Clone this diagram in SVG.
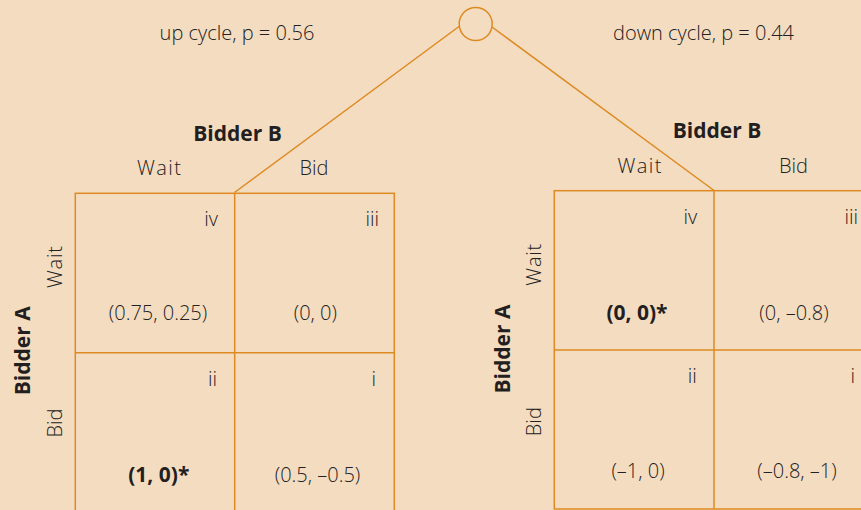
<svg xmlns="http://www.w3.org/2000/svg" width="861" height="510" viewBox="0 0 861 510">
<style>
.ln{fill:none;stroke:#de8a22;stroke-width:1.5}
.t{font-family:"Open Sans","Liberation Sans",sans-serif;font-weight:300;fill:#222;font-size:20px}
.b{font-family:"Open Sans","Liberation Sans",sans-serif;font-weight:700;fill:#231f20;font-size:21px}
.m{text-anchor:middle}
.e{text-anchor:end}
</style>
<rect width="861" height="510" fill="#f4dcc0"/>
<g id="connectors">
<line class="ln" x1="459" y1="26.5" x2="234.5" y2="192.5"/>
<line class="ln" x1="492" y1="27" x2="714" y2="190.5"/>
</g>
<g id="chance-node">
<circle class="ln" cx="475.7" cy="24" r="16.5"/>
</g>
<g id="labels-top">
<text class="t m" x="237" y="40">up cycle, p = 0.56</text>
<text class="t m" x="703.5" y="40">down cycle, p = 0.44</text>
</g>
<g id="matrix-up">
<rect class="ln" x="75.3" y="193.3" width="319" height="330"/>
<line class="ln" x1="234.7" y1="193.3" x2="234.7" y2="515"/>
<line class="ln" x1="75.3" y1="352.7" x2="394.3" y2="352.7"/>
<text class="b m" x="237.5" y="140.7">Bidder B</text>
<text class="t m" x="159" y="175" textLength="44">Wait</text>
<text class="t m" x="314" y="175">Bid</text>
<text class="b m" transform="translate(30,350.8) rotate(-90)">Bidder A</text>
<text class="t m" transform="translate(61.5,267) rotate(-90)" textLength="42">Wait</text>
<text class="t m" transform="translate(61.5,423) rotate(-90)">Bid</text>
<text class="t e" x="218" y="225.7">iv</text>
<text class="t e" x="379" y="225.7">iii</text>
<text class="t e" x="217" y="385.7">ii</text>
<text class="t e" x="376" y="385.7">i</text>
<text class="t m" x="158" y="320">(0.75, 0.25)</text>
<text class="t m" x="315.3" y="320">(0, 0)</text>
<text class="b m" x="158.8" y="481.7">(1, 0)*</text>
<text class="t m" x="317.5" y="481.5">(0.5, –0.5)</text>
</g>
<g id="matrix-down">
<rect class="ln" x="554.3" y="190.7" width="330" height="318.3"/>
<line class="ln" x1="714" y1="190.7" x2="714" y2="509"/>
<line class="ln" x1="554.3" y1="350" x2="875" y2="350"/>
<text class="b m" x="717" y="137.5">Bidder B</text>
<text class="t m" x="639.5" y="172.7" textLength="44">Wait</text>
<text class="t m" x="793.5" y="172.7">Bid</text>
<text class="b m" transform="translate(509.5,349) rotate(-90)">Bidder A</text>
<text class="t m" transform="translate(541,264.7) rotate(-90)" textLength="42">Wait</text>
<text class="t m" transform="translate(541,421.7) rotate(-90)">Bid</text>
<text class="t e" x="697.3" y="224">iv</text>
<text class="t e" x="858" y="224">iii</text>
<text class="t e" x="696.7" y="383">ii</text>
<text class="t e" x="855" y="383">i</text>
<text class="b m" x="637" y="320">(0, 0)*</text>
<text class="t m" x="794" y="320">(0, –0.8)</text>
<text class="t m" x="638" y="478">(–1, 0)</text>
<text class="t m" x="797" y="478">(–0.8, –1)</text>
</g>
</svg>
